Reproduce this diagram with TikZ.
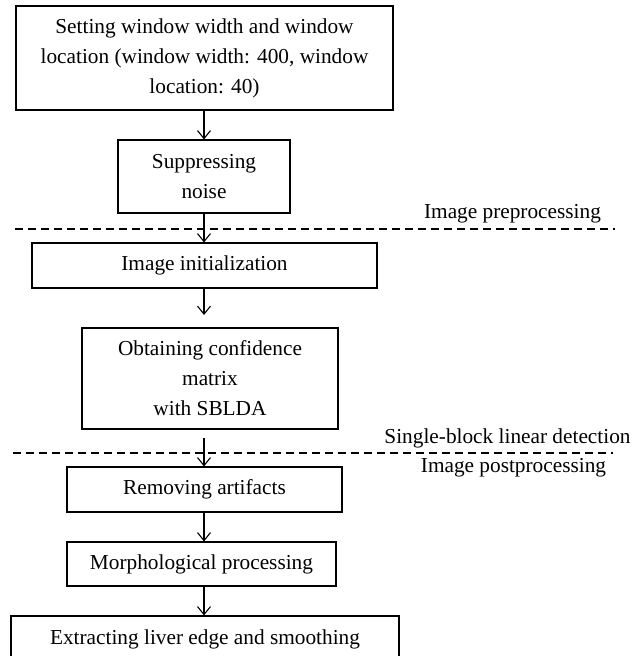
\documentclass[tikz,border=0pt]{standalone}
\usepackage{fontspec}
\setmainfont{Liberation Serif}
\usetikzlibrary{arrows.meta}
\begin{document}
\begin{tikzpicture}[x=1pt,y=-1pt,
  box/.style={draw, line width=1.1pt, align=center, inner sep=0pt, font=\fontsize{21.3}{30}\selectfont},
  lbl/.style={font=\fontsize{21.3}{30}\selectfont, inner sep=0pt, anchor=base},
  arr/.style={-{Straight Barb[length=8pt,width=13pt]}, line width=1.1pt},
  sep/.style={dash pattern=on 8pt off 5pt, line width=1.1pt}]
\useasboundingbox (0,0) rectangle (642,656);
\clip (0,0) rectangle (642,656);
\node[box, minimum width=377pt, minimum height=104pt] (b1) at (204.5,58)
  {Setting window width and window\\location (window width: 400, window\\location: 40)};
\node[box, minimum width=172pt, minimum height=73pt] (b2) at (204,176.5)
  {Suppressing\\noise};
\node[box, minimum width=345pt, minimum height=45pt] (b3) at (204.5,265.5)
  {Image initialization};
\node[box, minimum width=256pt, minimum height=101pt] (b4) at (210,378.5)
  {Obtaining confidence\\matrix\\with SBLDA};
\node[box, minimum width=275pt, minimum height=45pt] (b5) at (204.5,489.5)
  {Removing artifacts};
\node[box, minimum width=269pt, minimum height=44pt] (b6) at (201.5,564)
  {Morphological processing};
\node[box, minimum width=388pt, minimum height=46pt] (b7) at (205,639)
  {Extracting liver edge and smoothing};
% separators
\coordinate (s1a) at (15,229);
\coordinate (s1b) at (615,229);
\coordinate (s2a) at (13,453);
\coordinate (s2b) at (613,453);
\draw[sep] (s1a) -- (s1b);
\draw[sep] (s2a) -- (s2b);
\node[lbl] (l1) at (512.5,218) {Image preprocessing};
\node[lbl] (l2) at (507.5,443) {Single-block linear detection};
\node[lbl] (l3) at (513.5,472) {Image postprocessing};
% arrows
\coordinate (a3end) at (204,315);
\coordinate (a4start) at (204,438);
\draw[arr] (b1.south -| 204,0) -- (b2.north -| 204,0);
\draw[arr] (b2.south -| 204,0) -- (b3.north -| 204,0);
\draw[arr] (b3.south -| 204,0) -- (a3end);
\draw[arr] (a4start) -- (b5.north -| 204,0);
\draw[arr] (b5.south -| 204,0) -- (b6.north -| 204,0);
\draw[arr] (b6.south -| 204,0) -- (b7.north -| 204,0);
\end{tikzpicture}
\end{document}
